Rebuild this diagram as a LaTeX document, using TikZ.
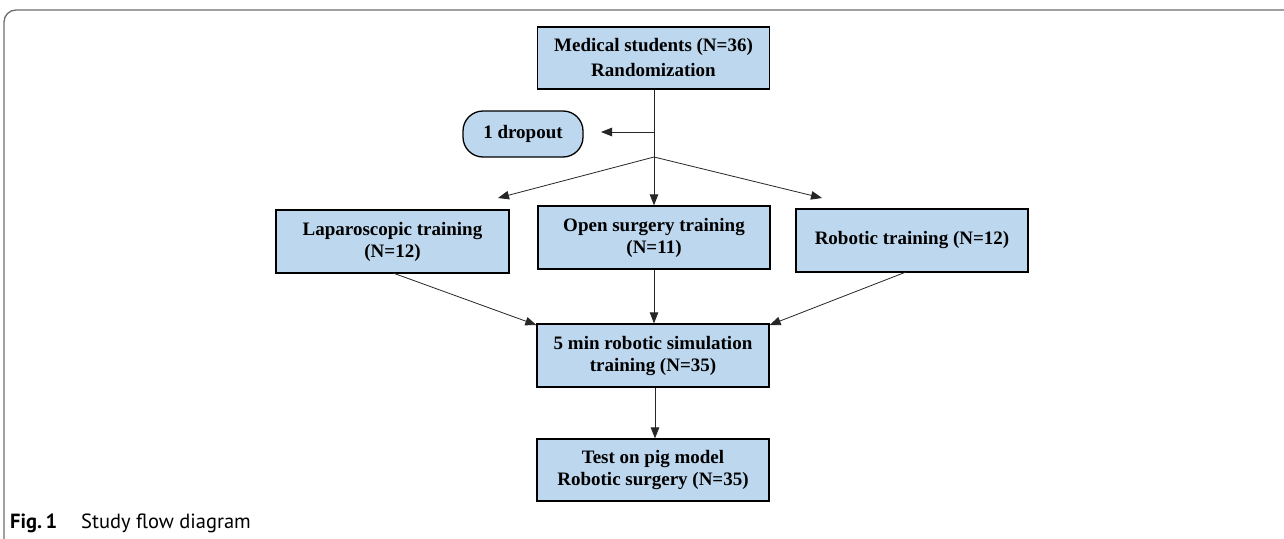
\documentclass[tikz,border=0pt]{standalone}
\usepackage{fontspec}
\setmainfont{Liberation Serif}
\newfontfamily\capfont{PT Sans}
\usetikzlibrary{arrows.meta}
\definecolor{boxblue}{HTML}{BDD7EE}
\definecolor{framegray}{HTML}{6E6E6E}
\tikzset{
  flowbox/.style={draw=black, line width=1.3pt, fill=boxblue, minimum width=232pt, minimum height=62pt, inner sep=2pt, align=center, font=\fontsize{19}{22}\selectfont\bfseries},
  dropbox/.style={flowbox, minimum width=120pt, minimum height=46pt, rounded corners=20pt},
  conn/.style={draw=black!85, line width=0.8pt, -{Triangle[length=11pt,width=8.5pt]}},
  plain/.style={draw=black!85, line width=0.8pt},
}
\begin{document}
\begin{tikzpicture}[x=1pt,y=-1pt]
\useasboundingbox (0,0) rectangle (1284,538);
\fill[white] (0,0) rectangle (1284,538);
\draw[framegray, line width=1.3pt, rounded corners=12pt] (4,540) -- (4,10) -- (1290,10);

\node[flowbox, font=\fontsize{19}{25}\selectfont\bfseries] (top) at (653.5,58) {Medical students (N=36)\\Randomization};
\node[dropbox] (drop) at (523,134) {1 dropout};
\node[flowbox, minimum width=233pt, minimum height=63pt] (lap) at (392.5,241.5) {Laparoscopic training\\(N=12)};
\node[flowbox, minimum height=63pt] (open) at (654,237.5) {Open surgery training\\(N=11)};
\node[flowbox, minimum height=63pt] (rob) at (912,240.5) {Robotic training (N=12)};
\node[flowbox, minimum height=63pt] (sim) at (653,355.5) {5 min robotic simulation\\training (N=35)};
\node[flowbox] (test) at (653,470) {Test on pig model\\Robotic surgery (N=35)};

\coordinate (j1) at (654,132);
\coordinate (j2) at (654,157);
\coordinate (dtip) at (601,132);
\coordinate (ltip) at (498,198);
\coordinate (rtip) at (822,198);
\coordinate (lapout) at (393,273);
\coordinate (robout) at (906,272);

\draw[plain] (top.south -| j1) -- (j2);
\draw[conn] (j1) -- (dtip);
\draw[conn] (j2) -- (ltip);
\draw[conn] (j2) -- (rtip);
\draw[conn] (j2) -- (open.north -| j2);
\draw[conn] (lapout) -- (sim.north west |- 0,325);
\draw[conn] (robout) -- (sim.north east |- 0,325);
\draw[conn] (open.south -| j2) -- (sim.north -| j2);
\draw[conn] (sim.south -| 655,0) -- (test.north -| 655,0);

\node[anchor=west, font=\capfont\fontsize{20.5}{24}\selectfont, inner sep=0pt] (cap) at (10,523) {\textbf{Fig.\,1}\hspace{24pt}Study flow diagram};
\end{tikzpicture}
\end{document}
